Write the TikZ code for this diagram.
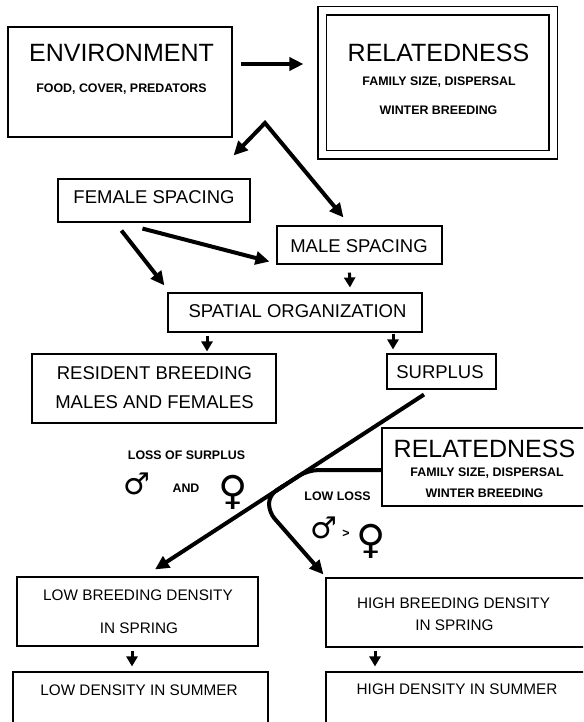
\documentclass[tikz,border=0pt]{standalone}
\usepackage{fontspec}
\setmainfont{Liberation Sans}
\newfontfamily\signfont{DejaVu Sans}
\usetikzlibrary{arrows.meta, calc}

\tikzset{
  box/.style={draw, line width=1.1pt, inner sep=0pt},
  bigtxt/.style={anchor=base, inner sep=0pt, font=\fontsize{25}{30}\selectfont},
  midtxt/.style={anchor=base, inner sep=0pt, font=\fontsize{18.5}{22}\selectfont},
  lowtxt/.style={anchor=base, inner sep=0pt, font=\fontsize{15.3}{18}\selectfont},
  smalltxt/.style={anchor=base, inner sep=0pt, font=\bfseries\fontsize{12.4}{15}\selectfont},
  malesign/.style={inner sep=0pt, font=\signfont\fontsize{30}{32}\selectfont},
  femsign/.style={inner sep=0pt, font=\signfont\fontsize{40}{42}\selectfont},
  bighead/.tip={Triangle[length=14pt, width=13pt]},
  stubhead/.tip={Triangle[length=10pt, width=11pt]},
  bigarrow/.style={line width=4pt, -bighead},
  stubarrow/.style={line width=3pt, -stubhead},
}

\begin{document}
\begin{tikzpicture}[x=1pt, y=-1pt]
    \clip (0,0) rectangle (583,722);

    % Boxes
    \node (env) [box, minimum width=224pt, minimum height=110pt] at (120,82) {};
    \node (rel) [box, double, double distance=7pt, minimum width=231pt, minimum height=144pt] at (437.5,83) {};
    \node (fem) [box, minimum width=192pt, minimum height=43pt] at (154,200.5) {};
    \node (male) [box, minimum width=165pt, minimum height=38pt] at (359.5,245) {};
    \node (spat) [box, minimum width=254pt, minimum height=39pt] at (295,312.5) {};
    \node (res) [box, minimum width=244pt, minimum height=69pt] at (154,388.5) {};
    \node (surp) [box, minimum width=109pt, minimum height=35pt] at (441.5,371.5) {};
    \node (rel2) [box, minimum width=218pt, minimum height=78pt] at (491,467) {};
    \node (lowb) [box, minimum width=241pt, minimum height=69pt] at (137.5,611.5) {};
    \node (highb) [box, minimum width=274pt, minimum height=69pt] at (463,612.5) {};
    \node (lows) [box, minimum width=255pt, minimum height=68pt] at (140.5,706) {};
    \node (highs) [box, minimum width=274pt, minimum height=68pt] at (463,706) {};

    % Texts
    \node (envtitle) [bigtxt] at (121.5,62) {ENVIRONMENT};
    \node (envsub) [smalltxt] at (121.5,93) {FOOD, COVER, PREDATORS};
    \node (reltitle) [bigtxt] at (438.5,62) {RELATEDNESS};
    \node (relsub) [smalltxt] at (439,85.5) {FAMILY SIZE, DISPERSAL};
    \node (relwin) [smalltxt] at (438.5,114.5) {WINTER BREEDING};
    \node (femtxt) [midtxt] at (154,204) {FEMALE SPACING};
    \node (maletxt) [midtxt] at (359,252) {MALE SPACING};
    \node (spattxt) [midtxt] at (297.5,317) {SPATIAL ORGANIZATION};
    \node (restxt) [midtxt] at (154.5,379) {RESIDENT BREEDING};
    \node (restxtb) [midtxt] at (154.5,408) {MALES AND FEMALES};
    \node (surptxt) [midtxt] at (440,378.5) {SURPLUS};
    \node (rel2title) [bigtxt] at (484.5,457.5) {RELATEDNESS};
    \node (rel2sub) [smalltxt] at (487,476.5) {FAMILY SIZE, DISPERSAL};
    \node (rel2win) [smalltxt] at (484.5,497.5) {WINTER BREEDING};
    \node (loss) [smalltxt] at (186.5,459) {LOSS OF SURPLUS};
    \node (malesym) [malesign] at (137,484) {♂};
    \node (andtxt) [smalltxt] at (186,492) {AND};
    \node (femsym) [femsign] at (233,492) {♀};
    \node (lowloss) [smalltxt] at (337.5,500.5) {LOW LOSS};
    \node (malesymb) [malesign] at (324,528) {♂};
    \node (gt) [smalltxt, anchor=center] at (346,534) {>};
    \node (femsymb) [femsign] at (371,541) {♀};
    \node (lowbtxt) [lowtxt] at (138,600.5) {LOW BREEDING DENSITY};
    \node (lowbtxtb) [lowtxt] at (139,633.5) {IN SPRING};
    \node (highbtxt) [lowtxt] at (453.5,608.5) {HIGH BREEDING DENSITY};
    \node (highbtxtb) [lowtxt] at (454.5,630.5) {IN SPRING};
    \node (lowstxt) [lowtxt] at (139,695.5) {LOW DENSITY IN SUMMER};
    \node (highstxt) [lowtxt] at (457,694.5) {HIGH DENSITY IN SUMMER};

    % Arrows
    \coordinate (fork) at (265,123);
    \coordinate (dtop) at ($(surp.south)+(-17.5,5)$);
    \coordinate (dbot) at ($(lowb.north)+(17.5,-7)$);

    \draw[bigarrow] ($(env.east)+(8,-18)$) -- ($(rel.west)+(-18,-19)$);
    \draw[bigarrow, bighead-bighead] ($(fem.north east)+(-17,-23)$) -- (fork) -- ($(male.north west)+(67,-8)$);
    \draw[bigarrow] ($(fem.south west)+(64,8)$) -- ($(spat.north west)+(-3,-7)$);
    \draw[bigarrow] ($(fem.south west)+(85,6)$) -- ($(male.south west)+(-7,-3)$);
    \draw[stubarrow] ($(male.south west)+(73,8)$) -- ($(spat.north)+(55,-5)$);
    \draw[stubarrow] ($(spat.south)+(-88,3)$) -- ($(res.north)+(53,-2)$);
    \draw[stubarrow] ($(spat.south)+(98,1)$) -- ($(surp.north)+(-48.5,-4)$);

    \draw[bigarrow] (dtop) -- (dbot);
    \draw[line width=4pt, rounded corners=10pt] ($(rel2.west)+(0,3)$) -- ($(dtop)!0.432!(dbot)$) -- ($(dtop)!0.55!(dbot)$);
    \draw[bigarrow, rounded corners=8pt] ($(dtop)!0.52!(dbot)$) -- ($(dtop)!0.576!(dbot)$) -- ++(0,17) -- ($(highb.north west)+(-2,-3)$);

    \draw[stubarrow] ($(lowb.south)+(-5.5,4)$) -- ($(lows.north)+(-8.5,-5)$);
    \draw[stubarrow] ($(highb.south)+(-88,3)$) -- ($(highs.north)+(-88,-5)$);
\end{tikzpicture}
\end{document}
